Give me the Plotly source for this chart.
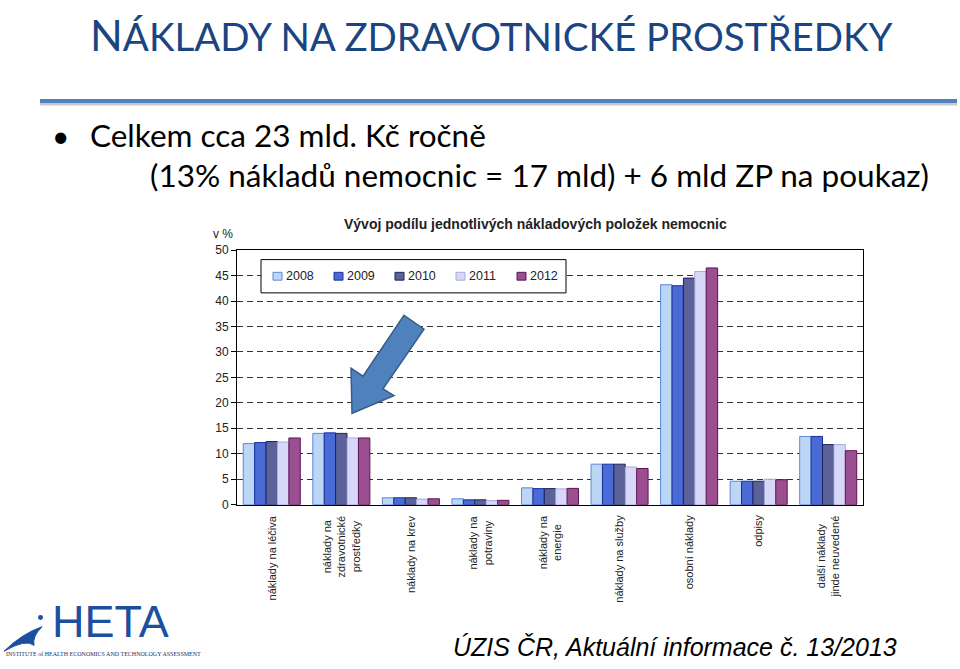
import plotly.graph_objects as go

# ---------------- data ----------------
categories = [
    "náklady na léčiva",
    "náklady na<br>zdravotnické<br>prostředky",
    "náklady na krev",
    "náklady na<br>potraviny",
    "náklady na<br>energie",
    "náklady na služby",
    "osobní náklady",
    "odpisy",
    "další náklady<br>jinde neuvedené",
]
years = ["2008", "2009", "2010", "2011", "2012"]
v2008 = [12.0, 14.0, 1.35, 1.15, 3.3, 7.95, 43.2, 4.6, 13.4]
v2009 = [12.2, 14.1, 1.35, 0.95, 3.15, 7.95, 43.0, 4.6, 13.4]
v2010 = [12.4, 14.0, 1.35, 0.95, 3.15, 7.95, 44.5, 4.6, 11.8]
v2011 = [12.3, 13.1, 1.1, 0.8, 3.1, 7.4, 45.8, 5.0, 11.8]
v2012 = [13.1, 13.1, 1.15, 0.85, 3.2, 7.1, 46.5, 4.9, 10.6]
series = [v2008, v2009, v2010, v2011, v2012]
yticks = [0, 5, 10, 15, 20, 25, 30, 35, 40, 45, 50]

# ---------------- style ----------------
W, H = 960, 669
fill_colors = ["#bcd7f6", "#4a6ad6", "#5a6299", "#d7d7f8", "#9c4f90"]
line_colors = ["#5f86d6", "#1c2f9c", "#1d2262", "#a9a9e0", "#5c1452"]
FONT = "Liberation Sans, Arial"


def px(x):
    return x / W


def py(y):
    return 1 - y / H


fig = go.Figure()
for yr, vals, fc, lc in zip(years, series, fill_colors, line_colors):
    fig.add_trace(go.Bar(
        name=yr, x=categories, y=vals, showlegend=False,
        marker=dict(color=fc, line=dict(color=lc, width=1)),
    ))

annotations = []
for cat in categories:
    annotations.append(dict(
        x=cat, xref="x", y=py(517), yref="paper",
        text=cat, textangle=-90, showarrow=False,
        xanchor="center", yanchor="top", align="center",
        font=dict(family=FONT, size=11, color="#222"),
    ))

shapes = []

# legend box drawn as decoration, entries built from years / colours
legend_left, legend_top, legend_right, legend_bottom = 261, 258, 566, 292
entry_x0, entry_step, entry_y = 273, 61, 275
shapes.append(dict(type="rect", xref="paper", yref="paper",
                   x0=px(legend_left), x1=px(legend_right),
                   y0=py(legend_bottom), y1=py(legend_top),
                   fillcolor="white", line=dict(color="#000", width=1),
                   layer="above"))
for i, (yr, fc, lc) in enumerate(zip(years, fill_colors, line_colors)):
    mx = entry_x0 + i * entry_step
    shapes.append(dict(type="rect", xref="paper", yref="paper",
                       x0=px(mx), x1=px(mx + 9), y0=py(entry_y + 4), y1=py(entry_y - 4),
                       fillcolor=fc, line=dict(color=lc, width=1), layer="above"))
    annotations.append(dict(x=px(mx + 11), y=py(entry_y), xref="paper", yref="paper",
                            text=yr, showarrow=False, xanchor="left", yanchor="middle",
                            font=dict(family=FONT, size=12.5, color="#222")))

title_main = ("<span style='font-size:43px'>N</span>ÁKLADY NA ZDRAVOTNICKÉ PROSTŘEDKY")
annotations += [
    dict(x=px(492), y=py(0), xref="paper", yref="paper", text=title_main,
         showarrow=False, xanchor="center", yanchor="top",
         font=dict(family="Lato", size=38.5, color="#1a4580")),
    dict(x=px(50), y=py(131), xref="paper", yref="paper", text="•",
         showarrow=False, xanchor="left", yanchor="middle",
         font=dict(family="Lato", size=30, color="#000")),
    dict(x=px(88), y=py(131), xref="paper", yref="paper",
         text="Celkem cca 23 mld. Kč ročně",
         showarrow=False, xanchor="left", yanchor="middle",
         font=dict(family="Lato", size=31.5, color="#000")),
    dict(x=px(148), y=py(172), xref="paper", yref="paper",
         text="(13% nákladů nemocnic = 17 mld) + 6 mld ZP na poukaz)",
         showarrow=False, xanchor="left", yanchor="middle",
         font=dict(family="Lato", size=31.5, color="#000")),
    dict(x=px(535), y=py(222), xref="paper", yref="paper",
         text="<b>Vývoj podílu jednotlivých nákladových položek nemocnic</b>",
         showarrow=False, xanchor="center", yanchor="middle",
         font=dict(family=FONT, size=14, color="#222")),
    dict(x=px(223), y=py(232), xref="paper", yref="paper", text="v %",
         showarrow=False, xanchor="center", yanchor="middle",
         font=dict(family=FONT, size=12, color="#222")),
    dict(x=px(899), y=py(654), xref="paper", yref="paper",
         text="<i>ÚZIS ČR, Aktuální informace č. 13/2013</i>",
         showarrow=False, xanchor="right", yanchor="middle",
         font=dict(family=FONT, size=25, color="#000")),
    dict(x=px(50), y=py(628), xref="paper", yref="paper", text="HETA",
         showarrow=False, xanchor="left", yanchor="middle",
         font=dict(family="Liberation Sans", size=45, color="#1b4f9f")),
    dict(x=px(4), y=py(661), xref="paper", yref="paper",
         text="INSTITUTE of HEALTH ECONOMICS AND TECHNOLOGY ASSESSMENT",
         showarrow=False, xanchor="left", yanchor="middle",
         font=dict(family="Liberation Serif", size=6, color="#1b2f5f")),
]

# arrow (decoration)
arrow_pts = [(404, 315), (424, 329), (383, 390), (394, 397), (352, 415),
             (351, 369), (363, 377)]
arrow_path = "M " + " L ".join(f"{px(x):.5f},{py(y):.5f}" for x, y in arrow_pts) + " Z"

shapes += [
    dict(type="line", xref="paper", yref="paper", x0=px(40), x1=px(957),
         y0=py(99), y1=py(99), line=dict(color="#c9c9c9", width=3)),
    dict(type="line", xref="paper", yref="paper", x0=px(40), x1=px(957),
         y0=py(96), y1=py(96), line=dict(color="#4f81bd", width=4)),
    dict(type="path", xref="paper", yref="paper", path=arrow_path,
         fillcolor="#4f81bd", line=dict(color="#385d8a", width=1.5)),
    # HETA swoosh "i"
    dict(type="path", xref="paper", yref="paper",
         path=(f"M {px(4)},{py(658)} Q {px(22)},{py(640)} {px(42)},{py(633)} "
               f"Q {px(32)},{py(643)} {px(34)},{py(652)} "
               f"Q {px(26)},{py(645)} {px(4)},{py(658)} Z"),
         fillcolor="#1b4f9f", line=dict(color="#1b4f9f", width=1)),
    dict(type="circle", xref="paper", yref="paper", x0=px(38), x1=px(43),
         y0=py(621), y1=py(626), fillcolor="#1b4f9f", line=dict(width=0)),
]

fig.update_layout(
    width=W, height=H,
    margin=dict(l=0, r=0, t=0, b=0),
    paper_bgcolor="white", plot_bgcolor="white",
    barmode="group", bargap=0.18, bargroupgap=0,
    showlegend=False,
    xaxis=dict(
        domain=[px(237), px(863)], showticklabels=False, showgrid=False,
        showline=True, linecolor="#000", linewidth=1, mirror=True,
        ticks="", fixedrange=True,
    ),
    yaxis=dict(
        domain=[py(508.3), py(248.3)], range=[0, 50],
        tickvals=yticks, ticktext=[str(t) for t in yticks],
        ticks="outside", ticklen=5, tickcolor="#000",
        showline=True, linecolor="#000", linewidth=1, mirror=True,
        showgrid=True, gridcolor="#333", gridwidth=1, griddash="6px,4px",
        zeroline=False,
        tickfont=dict(family=FONT, size=12, color="#222"),
    ),
    annotations=annotations,
    shapes=shapes,
)

fig.write_html("out.html")
